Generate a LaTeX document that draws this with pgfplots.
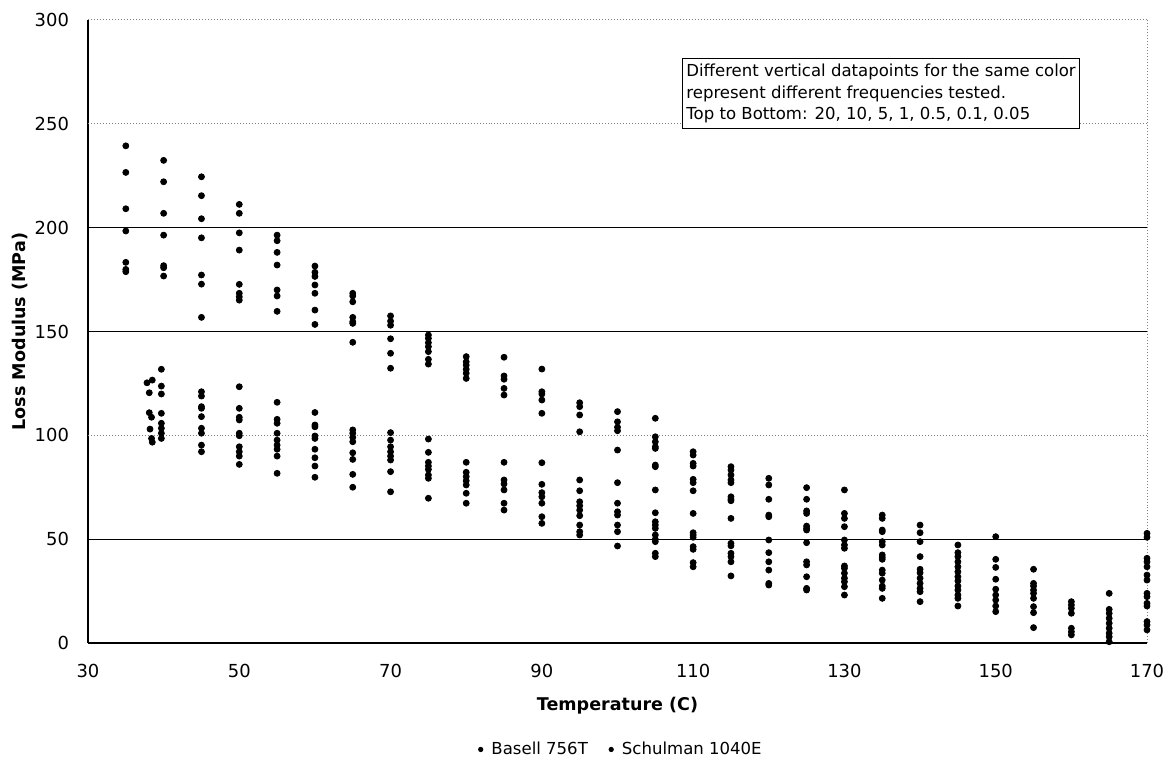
\documentclass[border=0pt]{standalone}
\usepackage{fontspec}
\setmainfont{DejaVu Sans}
\usepackage{pgfplots}
\pgfplotsset{compat=1.18}

% Loss modulus (MPa) against temperature (C); several frequencies per temperature
\pgfplotstableread{
T V
35 239.4
35 226.6
35 209.1
35 198.4
35 183.3
35 179.9
35 178.8
40 232.4
40 222.1
40 206.9
40 196.4
40 181.7
40 180.7
40 176.7
45 224.5
45 215.4
45 204.3
45 195.1
45 177.2
45 172.8
45 156.8
50 211.2
50 206.9
50 197.5
50 189.2
50 172.7
50 168.4
50 166.7
50 165.1
55 196.4
55 193.7
55 188.1
55 182.0
55 170.0
55 167.1
55 159.7
60 181.5
60 178.5
60 176.5
60 172.4
60 168.4
60 160.3
60 153.4
65 168.4
65 167.1
65 164.3
65 156.8
65 154.7
65 153.9
65 144.8
70 157.5
70 155.0
70 153.0
70 146.5
70 139.5
70 132.3
75 148.3
75 146.7
75 144.6
75 142.7
75 140.3
75 136.6
75 134.3
80 137.9
80 135.4
80 133.8
80 131.8
80 129.9
80 127.4
85 137.6
85 128.6
85 127.0
85 122.6
85 119.4
90 131.9
90 121.0
90 119.9
90 117.0
90 110.6
95 115.7
95 113.8
95 109.8
95 101.7
100 111.4
100 106.5
100 103.9
100 102.2
100 92.9
105 108.2
105 99.3
105 96.9
105 94.5
105 93.7
105 85.7
105 84.9
110 92.1
110 90.5
110 86.5
110 85.2
110 78.8
110 77.2
110 73.3
115 84.9
115 83.3
115 80.9
115 78.5
115 77.2
115 70.4
115 69.2
115 68.5
120 79.3
120 76.1
120 69.2
120 61.6
120 60.8
125 74.8
125 69.2
125 63.6
125 62.4
125 56.3
125 55.2
125 54.4
130 73.7
130 62.4
130 60.0
130 56.0
130 49.6
130 47.2
130 45.6
135 61.6
135 60.0
135 54.4
135 53.6
135 48.8
135 47.2
135 42.4
140 56.8
140 53.1
140 48.8
140 41.6
145 47.2
145 43.5
145 41.6
145 39.1
145 36.7
145 34.3
150 51.2
150 40.3
150 36.4
155 35.5
155 28.7
155 27.4
155 25.5
160 19.9
160 18.3
160 16.7
160 14.3
165 23.9
165 16.2
165 14.3
165 11.9
170 52.8
170 50.9
170 40.8
170 39.1
170 36.7
170 32.7
170 30.3
}\basell

\pgfplotstableread{
T V
37.8 125.3
38.5 126.6
38.1 120.5
38.1 110.9
38.4 108.7
38.2 103.0
38.4 98.5
38.5 96.7
39.7 131.8
39.7 123.7
39.7 119.9
39.7 110.6
39.7 105.8
39.7 103.4
39.7 101.0
39.7 98.5
45 121.0
45 118.9
45 113.8
45 113.0
45 109.0
45 103.4
45 101.0
45 95.3
45 92.1
50 123.4
50 113.0
50 108.7
50 107.4
50 101.0
50 99.8
50 94.5
50 92.1
50 90.0
50 86.0
55 115.9
55 107.7
55 105.8
55 101.0
55 97.7
55 95.3
55 93.3
55 90.0
55 81.7
60 111.0
60 105.0
60 104.1
60 99.7
60 98.5
60 93.3
60 89.2
60 85.2
60 79.8
65 102.6
65 101.0
65 99.0
65 96.9
65 91.6
65 88.4
65 81.2
65 75.0
70 101.3
70 97.7
70 94.5
70 92.1
70 90.0
70 88.1
70 82.5
70 72.8
75 98.2
75 91.8
75 87.0
75 85.2
75 83.6
75 80.9
75 79.3
75 69.7
80 87.0
80 82.2
80 80.1
80 78.1
80 76.1
80 72.1
80 67.3
85 87.0
85 78.5
85 76.6
85 73.7
85 67.3
85 64.0
90 86.8
90 76.4
90 72.4
90 70.4
90 67.3
90 60.8
90 57.6
95 78.5
95 73.3
95 68.0
95 66.1
95 64.0
95 61.3
95 56.8
95 53.6
95 52.0
100 77.2
100 67.3
100 63.2
100 61.6
100 56.8
100 53.6
100 46.7
105 73.7
105 62.7
105 58.4
105 56.8
105 55.2
105 52.0
105 49.9
105 48.8
105 43.2
105 41.6
110 62.4
110 53.1
110 52.0
110 50.9
110 46.4
110 45.1
110 38.7
110 36.7
115 60.0
115 48.0
115 46.8
115 43.2
115 41.6
115 39.1
115 32.3
120 49.6
120 43.5
120 39.1
120 35.1
120 28.7
120 27.9
125 48.3
125 39.1
125 37.6
125 31.9
125 26.3
125 25.5
130 37.1
130 36.0
130 33.6
130 31.2
130 29.5
130 27.1
130 23.1
135 41.3
135 40.3
135 35.1
135 33.6
135 30.3
135 27.4
135 26.3
135 21.5
140 35.5
140 33.8
140 31.2
140 28.7
140 26.3
140 24.7
140 19.9
145 31.9
145 29.9
145 27.4
145 25.5
145 23.1
145 21.5
145 17.8
150 30.7
150 25.9
150 23.1
150 20.7
150 17.8
150 15.1
155 23.9
155 21.5
155 17.5
155 14.6
155 7.4
160 7.1
160 5.4
160 3.9
165 9.5
165 7.1
165 4.7
165 3.0
165 0.6
170 23.9
170 22.3
170 19.1
170 17.8
170 10.3
170 8.7
170 6.3
}\schulman

\begin{document}
\begin{tikzpicture}
\begin{axis}[
  scale only axis,
  width=529.5bp, height=311.5bp,
  xmin=30, xmax=170, ymin=0, ymax=300,
  clip=false,
  axis x line*=bottom, axis y line*=left,
  axis line style={-, black, line width=0.6pt},
  xtick={30,50,70,90,110,130,150},
  extra x ticks={170},
  extra x tick style={grid=major, major grid style={gray, densely dotted, line width=0.5pt}},
  ytick={0,50,150,200},
  ymajorgrids,
  major grid style={black, line width=0.5pt},
  extra y ticks={100,250,300},
  extra y tick style={grid=major, major grid style={gray, densely dotted, line width=0.5pt}},
  major tick length=0pt,
  /pgf/number format/assume math mode=true,
  ticklabel style={font=\fontsize{9}{11}\selectfont},
  yticklabel style={xshift=-6bp},
  xticklabel style={yshift=-7bp},
  xlabel={\bfseries Temperature (C)},
  ylabel={\bfseries Loss Modulus (MPa)},
  label style={font=\fontsize{8.8}{10}\selectfont},
  xlabel style={at={(axis description cs:0.5,-0.101)}, anchor=center},
  ylabel style={at={(axis description cs:-0.064,0.5)}, anchor=center},
  legend style={at={(0.5,-0.145)}, anchor=north, draw=none, fill=none,
    legend columns=2, font=\fontsize{8.3}{10}\selectfont,
    /tikz/every even column/.append style={column sep=4bp}},
  legend image code/.code={%
    \path[draw=none, fill=none] (0,-0.1cm) rectangle (0.32cm,0.1cm);
    \fill[black] (0.2cm,0cm) circle (1.1pt);},
  legend cell align=left,
]
\addplot[only marks, mark=*, mark size=1.5pt, black] table[x=T, y=V] {\basell};
\addlegendentry{Basell 756T}
\addplot[only marks, mark=*, mark size=1.5pt, black] table[x=T, y=V] {\schulman};
\addlegendentry{Schulman 1040E}

\node[draw=black, line width=0.6pt, fill=white, anchor=north west, align=left,
      inner xsep=2bp, inner ysep=2.5bp, font=\fontsize{8.3}{11}\selectfont]
  at (axis cs:108.5,281.7)
  {Different vertical datapoints for the same color\\
   represent different frequencies tested.\\
   Top to Bottom: 20, 10, 5, 1, 0.5, 0.1, 0.05};

\path ([shift={(-44bp,-58.5bp)}]rel axis cs:0,0) rectangle ([shift={(12bp,10bp)}]rel axis cs:1,1);
\end{axis}
\end{tikzpicture}
\end{document}
